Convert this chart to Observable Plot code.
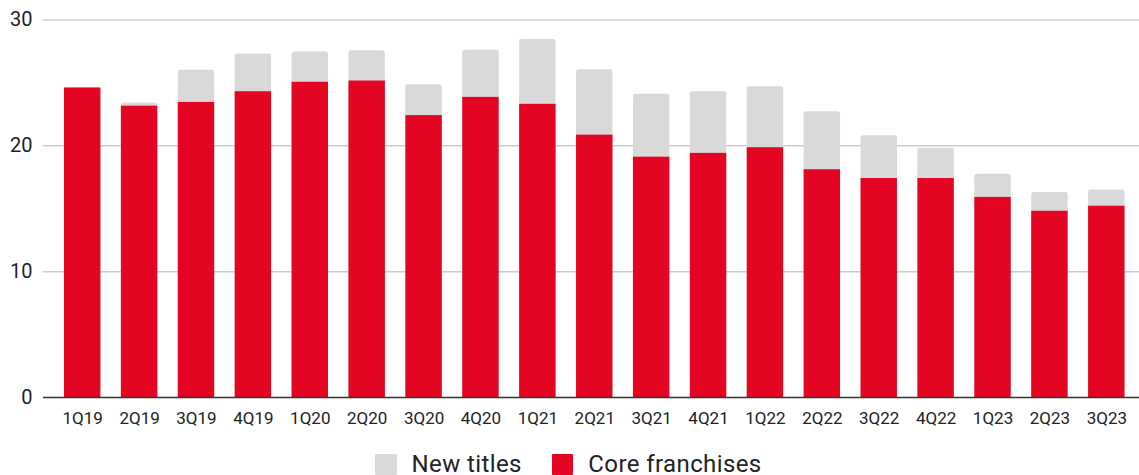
<!DOCTYPE html>
<html>
<head>
<meta charset="utf-8">
<script src="https://cdn.jsdelivr.net/npm/d3@7"></script>
<script src="https://cdn.jsdelivr.net/npm/@observablehq/plot@0.6"></script>
<style>
  html, body { margin: 0; padding: 0; background: #fff; }
  #wrap { position: relative; width: 1139px; height: 475px; overflow: hidden; font-family: Roboto, sans-serif; }
  #legend { position: absolute; top: 453px; left: 375px; display: flex; align-items: flex-start; font-size: 24px; letter-spacing: 0.4px; color: #222; }
  .item { display: flex; align-items: flex-start; margin-right: 30px; white-space: nowrap; }
  .sw { display: inline-block; width: 21.5px; height: 21px; margin-right: 15px; border-radius: 1px; margin-top: 0.5px; }
  .lbl { display: inline-block; line-height: 18px; height: 18px; margin-top: 2.3px; }
</style>
</head>
<body>
<div id="wrap"><div id="chart"></div><div id="legend"></div></div>
<script>
const quarters = ["1Q19","2Q19","3Q19","4Q19","1Q20","2Q20","3Q20","4Q20","1Q21","2Q21","3Q21","4Q21","1Q22","2Q22","3Q22","4Q22","1Q23","2Q23","3Q23"];
const coreFranchises = [24.6, 23.15, 23.45, 24.3, 25.05, 25.15, 22.4, 23.85, 23.3, 20.85, 19.1, 19.4, 19.85, 18.1, 17.4, 17.4, 15.9, 14.8, 15.2];
const newTitles = [0, 0.25, 2.55, 3.0, 2.4, 2.4, 2.45, 3.75, 5.15, 5.2, 5.0, 4.9, 4.85, 4.6, 3.4, 2.4, 1.85, 1.5, 1.3];
const yTicks = [0, 10, 20, 30];
const seriesNames = ["New titles", "Core franchises"];
const seriesColors = ["#d9d9d9", "#e30521"];

const rows = quarters.map((q, i) => ({q, core: coreFranchises[i], fresh: newTitles[i], total: coreFranchises[i] + newTitles[i]}));

const chart = Plot.plot({
  width: 1139,
  height: 440,
  marginLeft: 43,
  marginRight: 0,
  marginTop: 19.5,
  marginBottom: 43,
  style: {fontFamily: "Roboto, sans-serif", color: "#222", background: "#fff"},
  x: {domain: quarters, range: [43.5, 1145], paddingInner: 0.36, paddingOuter: 0.36, round: false, axis: null},
  y: {domain: [0, 30], axis: null},
  marks: [
    Plot.ruleY(yTicks.filter(t => t > 0), {stroke: "#cccccc", strokeWidth: 1.5}),
    Plot.barY(rows, {x: "q", y1: 0, y2: "total", fill: seriesColors[0], rx: 2.5}),
    Plot.barY(rows, {x: "q", y1: 0, y2: "core", fill: seriesColors[1]}),
    Plot.ruleY([0], {stroke: "#333", strokeWidth: 1.5}),
    Plot.axisY(yTicks, {tickSize: 0, tickPadding: 11, fontSize: 20, label: null, fill: "#222"}),
    Plot.axisX(quarters, {tickSize: 0, tickPadding: 14, fontSize: 17, label: null, fill: "#222"})
  ]
});
document.getElementById("chart").appendChild(chart);

const legend = document.getElementById("legend");
seriesNames.forEach((name, i) => {
  const item = document.createElement("div");
  item.className = "item";
  const sw = document.createElement("span");
  sw.className = "sw";
  sw.style.background = seriesColors[i];
  const lbl = document.createElement("span");
  lbl.className = "lbl";
  lbl.textContent = name;
  item.appendChild(sw);
  item.appendChild(lbl);
  legend.appendChild(item);
});
</script>
</body>
</html>
